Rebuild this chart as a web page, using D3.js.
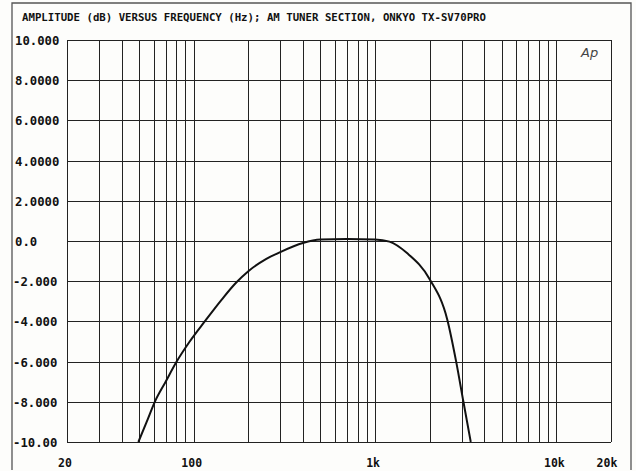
<!DOCTYPE html>
<html>
<head>
<meta charset="utf-8">
<script src="https://cdn.jsdelivr.net/npm/d3@7/dist/d3.min.js"></script>
<style>
  html, body { margin: 0; padding: 0; background: #fdfdfb; }
  svg { display: block; }
</style>
</head>
<body>
<svg id="chart" width="636" height="471"></svg>
<script>
// ---- data ----
const titleText = "AMPLITUDE (dB) VERSUS FREQUENCY (Hz); AM TUNER SECTION, ONKYO TX-SV70PRO";
const frequencyHz = [49.5, 55, 61, 70, 80.5, 95, 115, 143, 170, 200, 250, 300, 400, 500, 700, 1000, 1200, 1500, 2000, 2500, 2800, 3070, 3370];
const amplitudeDb = [-10, -9, -8, -7, -6, -5, -4, -2.9, -2.1, -1.5, -0.9, -0.55, -0.1, 0.07, 0.1, 0.08, -0.03, -0.6, -1.9, -3.9, -6, -8, -10];
const xGridValues = [20,30,40,50,60,70,80,90,100,200,300,400,500,600,700,800,900,1000,2000,3000,4000,5000,6000,7000,8000,9000,10000,20000];
const xTickValues = [20, 100, 1000, 10000, 20000];
const xTickLabels = ["20", "100", "1k", "10k", "20k"];
const yTickValues = [10, 8, 6, 4, 2, 0, -2, -4, -6, -8, -10];
const yTickLabels = ["10.000", "8.0000", "6.0000", "4.0000", "2.0000", "0.0", "-2.000", "-4.000", "-6.000", "-8.000", "-10.00"];

// ---- layout ----
const svg = d3.select("#chart");
const L = 67, R = 611, T = 40, B = 442;
const x = d3.scaleLog().domain([20, 20000]).range([L, R]);
const y = d3.scaleLinear().domain([-10, 10]).range([B, T]);
const ink = "#222";
const mono = "'DejaVu Sans Mono', 'Liberation Mono', monospace";

// outer frame
svg.append("path")
  .attr("d", "M12,470 L12,3 L631,3 L631,470")
  .attr("fill", "none").attr("stroke", "#555").attr("stroke-width", 1.3);

// title
svg.append("text")
  .attr("x", 22).attr("y", 21)
  .attr("font-family", mono).attr("font-weight", "bold").attr("font-size", 10.5)
  .attr("textLength", 464).attr("lengthAdjust", "spacingAndGlyphs")
  .attr("fill", "#111")
  .text(titleText);

// grid
const grid = svg.append("g").attr("stroke", ink).attr("stroke-width", 1).attr("shape-rendering", "crispEdges");
grid.selectAll("line.v").data(xGridValues).enter().append("line")
  .attr("x1", d => Math.round(x(d)) + 0.5).attr("x2", d => Math.round(x(d)) + 0.5)
  .attr("y1", T).attr("y2", B);
grid.selectAll("line.h").data(yTickValues).enter().append("line")
  .attr("x1", L).attr("x2", R)
  .attr("y1", d => Math.round(y(d)) + 0.5).attr("y2", d => Math.round(y(d)) + 0.5);

// y labels
svg.append("g").selectAll("text").data(yTickValues).enter().append("text")
  .attr("x", (d, i) => yTickLabels[i].startsWith("-") ? 13 : 15)
  .attr("y", d => y(d) + 5)
  .attr("font-family", mono).attr("font-weight", "bold").attr("font-size", 11.5)
  .attr("textLength", (d, i) => yTickLabels[i].length * 7.4)
  .attr("lengthAdjust", "spacingAndGlyphs")
  .attr("fill", "#111")
  .text((d, i) => yTickLabels[i]);

// x labels
svg.append("g").selectAll("text").data(xTickValues).enter().append("text")
  .attr("x", (d, i) => x(d) - (i === xTickValues.length - 1 ? 4 : 2))
  .attr("y", 467)
  .attr("text-anchor", "middle")
  .attr("font-family", mono).attr("font-weight", "bold").attr("font-size", 11.5)
  .attr("fill", "#111")
  .text((d, i) => xTickLabels[i]);

// Ap logo
svg.append("text")
  .attr("x", 581).attr("y", 57)
  .attr("font-family", "'DejaVu Sans', sans-serif").attr("font-style", "italic")
  .attr("font-size", 13).attr("fill", "#444")
  .text("Ap");

// curve
const pts = frequencyHz.map((f, i) => [f, amplitudeDb[i]]);
svg.append("path")
  .datum(pts)
  .attr("fill", "none").attr("stroke", "#111").attr("stroke-width", 2)
  .attr("stroke-linejoin", "round")
  .attr("d", d3.line().x(d => x(d[0])).y(d => y(d[1])).curve(d3.curveMonotoneX));
</script>
</body>
</html>
